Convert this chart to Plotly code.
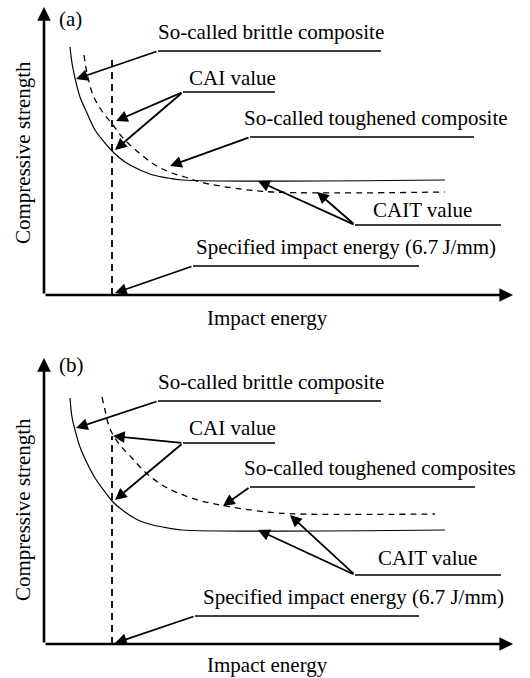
import plotly.graph_objects as go

# ---------------- data (schematic units: impact energy / compressive strength) ----------------
# Panel (a)
a_brittle_energy = [26, 28, 31, 36, 43, 51, 61, 69, 81, 94, 109, 124, 138, 401]
a_brittle_strength = [248, 232, 217, 198, 182, 165, 152, 143, 133, 126, 120, 117, 115, 115]
a_tough_energy = [40, 43, 49, 58, 69, 79, 94, 111, 128, 141, 156, 189, 229, 401]
a_tough_strength = [240, 222, 200, 184, 170, 157, 143, 130, 122, 118, 113, 107, 103, 103]
# Panel (b)
b_brittle_energy = [26, 28, 31, 36, 43, 51, 61, 69, 81, 94, 109, 124, 138, 401]
b_brittle_strength = [246, 227, 214, 197, 181, 166, 152, 142, 132, 124, 119, 116, 114, 114]
b_tough_energy = [58, 61, 64, 68, 76, 88, 101, 118, 134, 154, 176, 223, 256, 391]
b_tough_strength = [247, 234, 221, 211, 199, 186, 172, 159, 151, 144, 139, 132, 130, 130]

specified_energy = 68          # specified impact energy (6.7 J/mm)
a_cai_top = 235
b_cai_top = 208

panel_tags = ["(a)", "(b)"]
label_brittle = "So-called brittle composite"
label_cai = "CAI value"
label_tough = ["So-called toughened composite", "So-called toughened composites"]
label_cait = "CAIT value"
label_spec = ["Specified impact energy (6.7\u2009J/mm)", "Specified impact energy (6.7 J/mm)"]
x_title = "Impact energy"
y_title = "Compressive strength"

FONT = dict(family="Liberation Serif, Times New Roman, serif", size=21, color="black")

fig = go.Figure()
annotations = []
shapes = []


def panel(idx, xr, yr, b_e, b_s, t_e, t_s, cai_top, geo):
    # curves
    fig.add_trace(go.Scatter(x=b_e, y=b_s, mode="lines", xaxis=xr, yaxis=yr,
                             line=dict(color="black", width=1.2, shape="spline", smoothing=1.0),
                             showlegend=False, hoverinfo="skip"))
    fig.add_trace(go.Scatter(x=t_e, y=t_s, mode="lines", xaxis=xr, yaxis=yr,
                             line=dict(color="black", width=1.3, dash="6px,5px", shape="spline", smoothing=1.0),
                             showlegend=False, hoverinfo="skip"))
    fig.add_trace(go.Scatter(x=[specified_energy, specified_energy], y=[0, cai_top], mode="lines",
                             xaxis=xr, yaxis=yr,
                             line=dict(color="black", width=1.8, dash="7px,5px"),
                             showlegend=False, hoverinfo="skip"))
    xref = xr
    yref = yr

    def arrow(tip, tail, w=1.8, size=1.3):
        annotations.append(dict(x=tip[0], y=tip[1], ax=tail[0], ay=tail[1],
                                xref=xref, yref=yref, axref=xref, ayref=yref,
                                text="", showarrow=True, arrowhead=2, arrowsize=size,
                                arrowwidth=w, arrowcolor="black", standoff=0))

    def line(x0, x1, y, w=1.3):
        shapes.append(dict(type="line", xref=xref, yref=yref, x0=x0, x1=x1, y0=y, y1=y,
                           line=dict(color="black", width=w)))

    def text(t, x, y, anchor="left", angle=0):
        annotations.append(dict(x=x, y=y, xref=xref, yref=yref, text=t, showarrow=False,
                                xanchor=anchor, yanchor="middle", font=FONT, textangle=angle))

    # axes with arrow heads
    arrow((0, geo["ytip"]), (0, 0), w=2.6, size=1.05)
    arrow((469, 0), (0, 0), w=2.6, size=1.05)

    # labels, underlines and leaders
    for key in ["brittle", "cai", "tough", "cait", "spec"]:
        g = geo[key]
        text(g["text"], g["tx"], g["ty"])
        line(g["u0"], g["u1"], g["uy"])
        for tip in g["tips"]:
            arrow(tip, (g["u0"], g["uy"]))

    text(panel_tags[idx], 13, geo["tagy"])
    text(y_title, -21, geo["ytitle"], anchor="center", angle=-90)
    text(x_title, 223, geo["xtitle"], anchor="center")


geo_a = dict(
    ytip=288, tagy=276, ytitle=142, xtitle=-23,
    brittle=dict(text=label_brittle, tx=112, ty=263, u0=114, u1=337, uy=244, tips=[(32, 216)]),
    cai=dict(text=label_cai, tx=143, ty=217, u0=139, u1=231, uy=203, tips=[(72, 174), (71, 145)]),
    tough=dict(text=label_tough[0], tx=198, ty=177, u0=206, u1=430, uy=158, tips=[(126, 129)]),
    cait=dict(text=label_cait, tx=327, ty=85, u0=311, u1=457, uy=70, tips=[(214, 114), (273, 103)]),
    spec=dict(text=label_spec[0], tx=150, ty=48, u0=149, u1=375, uy=29, tips=[(71, 2)]),
)
geo_b = dict(
    ytip=286, tagy=279, ytitle=134, xtitle=-21,
    brittle=dict(text=label_brittle, tx=112, ty=262, u0=114, u1=337, uy=243, tips=[(32, 216)]),
    cai=dict(text=label_cai, tx=143, ty=216, u0=139, u1=231, uy=201, tips=[(69, 208), (71, 144)]),
    tough=dict(text=label_tough[1], tx=198, ty=176, u0=206, u1=431, uy=157, tips=[(179, 138)]),
    cait=dict(text=label_cait, tx=332, ty=86, u0=311, u1=457, uy=69, tips=[(214, 114), (246, 129)]),
    spec=dict(text=label_spec[1], tx=157, ty=47, u0=151, u1=375, uy=28, tips=[(71, 1)]),
)

panel(0, "x", "y", a_brittle_energy, a_brittle_strength, a_tough_energy, a_tough_strength, a_cai_top, geo_a)
panel(1, "x2", "y2", b_brittle_energy, b_brittle_strength, b_tough_energy, b_tough_strength, b_cai_top, geo_b)

ax_common = dict(visible=False, fixedrange=True)
fig.update_layout(
    width=530, height=678,
    margin=dict(l=0, r=0, t=0, b=0),
    paper_bgcolor="white", plot_bgcolor="white",
    xaxis=dict(domain=[0, 1], range=[-44, 486], anchor="y", **ax_common),
    yaxis=dict(domain=[0.5, 1], range=[-44, 295], anchor="x", **ax_common),
    xaxis2=dict(domain=[0, 1], range=[-44, 486], anchor="y2", **ax_common),
    yaxis2=dict(domain=[0, 0.5], range=[-34, 305], anchor="x2", **ax_common),
    annotations=annotations,
    shapes=shapes,
    showlegend=False,
)

fig.write_html("out.html")
